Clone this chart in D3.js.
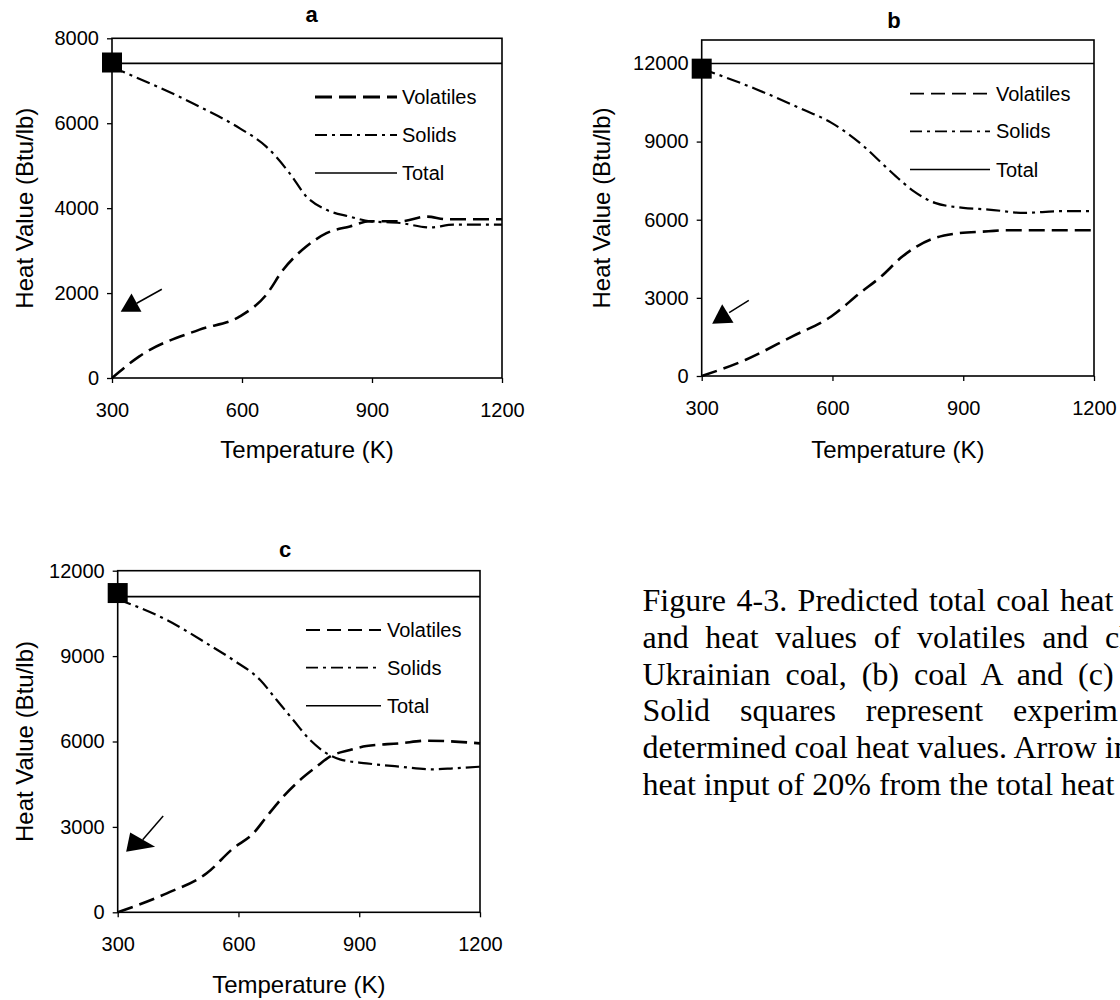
<!DOCTYPE html>
<html><head><meta charset="utf-8">
<script src="https://cdn.jsdelivr.net/npm/d3@7"></script>
<style>body{margin:0;background:#fff} svg{display:block}</style>
</head><body>
<svg id="chart" width="1120" height="1000"></svg>
<script>
// ---------------- data ----------------
const xTicks = [300, 600, 900, 1200];
const aYTicks = [0, 2000, 4000, 6000, 8000];
const bYTicks = [0, 3000, 6000, 9000, 12000];
const cYTicks = [0, 3000, 6000, 9000, 12000];
const seriesNames = ["Volatiles", "Solids", "Total"];
const panelTitles = ["a", "b", "c"];
const xAxisTitle = "Temperature (K)";
const yAxisTitle = "Heat Value (Btu/lb)";

// panel a (Ukrainian coal)
const aVolatiles = [[300,0],[363,510],[502,1140],[595,1450],[656,1960],[695,2550],[749,3100],[795,3410],[849,3570],[895,3690],[965,3690],[1026,3800],[1073,3740],[1200,3740]];
const aSolids = [[300,7320],[502,6390],[595,5880],[656,5450],[710,4820],[749,4270],[795,3960],[849,3800],[895,3690],[965,3650],[1034,3545],[1088,3610],[1200,3610]];
const aTotal = 7410;
const aMeasured = 7430;
const aArrow = {from:[415,2090], to:[357,1760], head:[[320,1560],[368,1560],[345,1990]]};

// panel b (coal A)
const bVolatiles = [[300,0],[400,616],[507,1514],[597,2284],[663,3183],[712,3824],[761,4595],[794,4980],[835,5300],[876,5454],[958,5557],[999,5596],[1200,5596]];
const bSolids = [[300,11800],[425,11011],[531,10241],[597,9728],[671,8830],[712,8188],[745,7675],[786,7097],[835,6648],[900,6455],[958,6391],[1040,6263],[1122,6327],[1200,6327]];
const bTotal = 12000;
const bMeasured = 11800;
const bArrow = {from:[408,2905], to:[363,2430], head:[[324,2005],[373,2045],[347,2750]]};

// panel c (coal B)
const cVolatiles = [[300,0],[422,667],[521,1370],[587,2248],[637,2775],[670,3360],[711,4062],[753,4648],[794,5116],[827,5467],[877,5701],[918,5842],[1001,5935],[1068,6029],[1200,5935]];
const cSolids = [[300,11000],[422,10267],[521,9448],[587,8862],[654,8160],[695,7457],[736,6755],[778,6053],[819,5584],[852,5373],[918,5233],[1001,5116],[1084,5022],[1134,5057],[1200,5116]];
const cTotal = 11090;
const cMeasured = 11215;
const cArrow = {from:[413,3380], to:[362,2550], head:[[321,2130],[331,2800],[393,2300]]};

const captionLines = [
  "Figure 4-3. Predicted total coal heat",
  "and heat values of volatiles and ch",
  "Ukrainian coal, (b) coal A and (c)",
  "Solid squares represent experim",
  "determined coal heat values. Arrow in",
  "heat input of 20% from the total heat"
];

// ---------------- layout ----------------
const panels = [
  {title:panelTitles[0], vol:aVolatiles, sol:aSolids, total:aTotal, meas:aMeasured, arrow:aArrow, yTicks:aYTicks, yMax:8000,
   left:112, right:502, top:38.3, bottom:378, titleX:311.7, titleY:21.7, yTitleX:33, xTitleY:458, thickLegend:true,
   legend:{x0:315, x1:397, tx:402, ys:[97,135,173]}},
  {title:panelTitles[1], vol:bVolatiles, sol:bSolids, total:bTotal, meas:bMeasured, arrow:bArrow, yTicks:bYTicks, yMax:12900,
   left:701.7, right:1094, top:40, bottom:376, titleX:894, titleY:28.4, yTitleX:610, xTitleY:458, thickLegend:false,
   legend:{x0:910, x1:990, tx:996, ys:[93.6,131.4,169.6]}},
  {title:panelTitles[2], vol:cVolatiles, sol:cSolids, total:cTotal, meas:cMeasured, arrow:cArrow, yTicks:cYTicks, yMax:12000,
   left:117.7, right:480, top:570.7, bottom:912.3, titleX:285, titleY:556.7, yTitleX:33.3, xTitleY:992.7, thickLegend:false,
   legend:{x0:306, x1:381, tx:387, ys:[630,667.7,705.7]}}
];

const SANS = "'Liberation Sans', Arial, sans-serif";
const SERIF = "'Liberation Serif', 'Times New Roman', serif";
const svg = d3.select("#chart");
svg.append("rect").attr("width",1120).attr("height",1000).attr("fill","#fff");

const VOL_DASH = "16,7", SOL_DASH = "14,5,3,5";

panels.forEach(p => {
  const x = d3.scaleLinear().domain([300,1200]).range([p.left,p.right]);
  const y = d3.scaleLinear().domain([0,p.yMax]).range([p.bottom,p.top]);
  const g = svg.append("g");

  // axes
  const ya = g.append("g").attr("transform",`translate(${p.left},0)`)
    .call(d3.axisLeft(y).tickValues(p.yTicks).tickSize(5).tickPadding(8).tickFormat(d3.format("d")));
  const xa = g.append("g").attr("transform",`translate(0,${p.bottom})`)
    .call(d3.axisBottom(x).tickValues(xTicks).tickSize(5).tickPadding(19.5).tickFormat(d3.format("d")));
  [ya,xa].forEach(a => {
    a.select(".domain").remove();
    a.selectAll("line").attr("stroke","#000").attr("stroke-width",1.3);
    a.selectAll("text").attr("font-family",SANS).attr("font-size",20).attr("fill","#000");
  });

  // frame
  g.append("rect").attr("x",p.left).attr("y",p.top).attr("width",p.right-p.left).attr("height",p.bottom-p.top)
    .attr("fill","none").attr("stroke","#000").attr("stroke-width",1.6);

  // series
  const line = d3.line().x(d=>x(d[0])).y(d=>y(d[1])).curve(d3.curveMonotoneX);
  g.append("path").datum([[300,p.total],[1200,p.total]]).attr("d",line)
    .attr("fill","none").attr("stroke","#000").attr("stroke-width",1.6);
  g.append("path").datum(p.sol).attr("d",line).attr("fill","none").attr("stroke","#000")
    .attr("stroke-width",2.2).attr("stroke-dasharray",SOL_DASH);
  g.append("path").datum(p.vol).attr("d",line).attr("fill","none").attr("stroke","#000")
    .attr("stroke-width",2.6).attr("stroke-dasharray",VOL_DASH);

  // measured square
  g.append("rect").attr("x",x(300)-10).attr("y",y(p.meas)-10).attr("width",20).attr("height",20).attr("fill","#000");

  // arrow annotation
  g.append("line").attr("x1",x(p.arrow.from[0])).attr("y1",y(p.arrow.from[1]))
    .attr("x2",x(p.arrow.to[0])).attr("y2",y(p.arrow.to[1])).attr("stroke","#000").attr("stroke-width",1.5);
  g.append("path").attr("d","M"+p.arrow.head.map(d=>[x(d[0]),y(d[1])].join(",")).join("L")+"Z").attr("fill","#000");

  // titles
  g.append("text").attr("x",p.titleX).attr("y",p.titleY).attr("text-anchor","middle")
    .attr("font-family",SANS).attr("font-weight","bold").attr("font-size",22).text(p.title);
  g.append("text").attr("x",(p.left+p.right)/2).attr("y",p.xTitleY).attr("text-anchor","middle")
    .attr("font-family",SANS).attr("font-size",24).text(xAxisTitle);
  g.append("text").attr("transform",`translate(${p.yTitleX},${(p.top+p.bottom)/2}) rotate(-90)`)
    .attr("text-anchor","middle").attr("font-family",SANS).attr("font-size",24).text(yAxisTitle);

  // legend
  const L = p.legend;
  const styles = [
    {dash: p.thickLegend ? "17,7" : "14,7", w: p.thickLegend ? 3 : 1.8},
    {dash: "12,5,3,5", w: 1.8},
    {dash: null, w: 1.5}
  ];
  seriesNames.forEach((name,i) => {
    const ln = g.append("line").attr("x1",L.x0).attr("x2",L.x1).attr("y1",L.ys[i]).attr("y2",L.ys[i])
      .attr("stroke","#000").attr("stroke-width",styles[i].w);
    if (styles[i].dash) ln.attr("stroke-dasharray",styles[i].dash);
    g.append("text").attr("x",L.tx).attr("y",L.ys[i]).attr("dy","0.35em")
      .attr("font-family",SANS).attr("font-size",20).text(name);
  });
});

// caption (justified lines, clipped at page edge)
const capX = 642.5, capY0 = 611, capStep = 36.8;
const lastWordStart = [1060, 1105, 1078, 1013, 1105, 1060];
const cap = svg.append("g").attr("font-family",SERIF).attr("font-size",32).attr("fill","#000");
const measure = t => { const e = cap.append("text").text(t); const w = e.node().getComputedTextLength(); e.remove(); return w; };
const spaceW = measure("a a") - measure("aa");
captionLines.forEach((t,i) => {
  const words = t.split(" ");
  const prefixW = measure(words.slice(0,-1).join(" ")) + spaceW;
  const extra = Math.max(0, (lastWordStart[i] - capX - prefixW) / (words.length - 1));
  cap.append("text").attr("x",capX).attr("y",capY0 + i*capStep)
    .attr("word-spacing",extra.toFixed(2)).attr("xml:space","preserve").text(t);
});
</script>
</body></html>
